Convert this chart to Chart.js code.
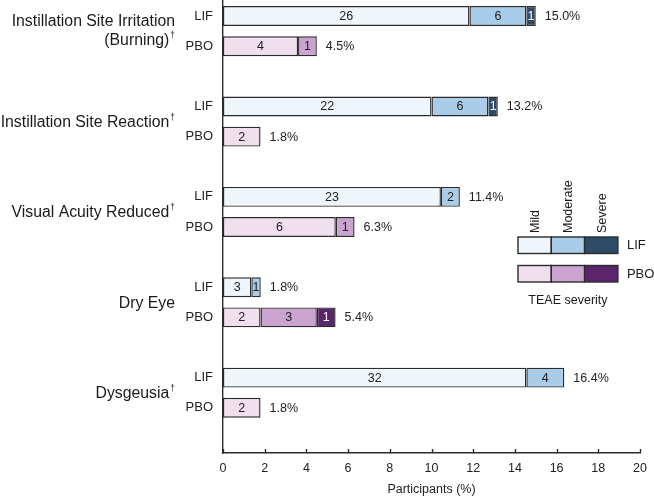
<!DOCTYPE html>
<html>
<head>
<meta charset="utf-8">
<script src="https://cdn.jsdelivr.net/npm/chart.js@4"></script>
<style>
  html, body { margin: 0; padding: 0; background: #fff; }
  #wrap { width: 654px; height: 497px; position: relative; }
</style>
</head>
<body>
<div id="wrap"><canvas id="c" width="654" height="497"></canvas></div>
<script>
// ---- Data ----
const groupLines = [
  ['Instillation Site Irritation', '(Burning)†'],
  ['Instillation Site Reaction†'],
  ['Visual Acuity Reduced†'],
  ['Dry Eye'],
  ['Dysgeusia†']
];
const arms = ['LIF', 'PBO'];
// percentages of participants (x-values)
const lifMild     = [11.82, 10.00, 10.45, 1.36, 14.55];
const lifModerate = [2.73, 2.73, 0.91, 0.45, 1.82];
const lifSevere   = [0.45, 0.45, null, null, null];
const pboMild     = [3.60, 1.80, 5.41, 1.80, 1.80];
const pboModerate = [0.90, null, 0.90, 2.70, null];
const pboSevere   = [null, null, null, 0.90, null];
// participant counts shown inside the segments
const lifMildN     = [26, 22, 23, 3, 32];
const lifModerateN = [6, 6, 2, 1, 4];
const lifSevereN   = [1, 1, null, null, null];
const pboMildN     = [4, 2, 6, 2, 2];
const pboModerateN = [1, null, 1, 3, null];
const pboSevereN   = [null, null, null, 1, null];
// totals shown to the right of the bars
const lifTotal = ['15.0%', '13.2%', '11.4%', '1.8%', '16.4%'];
const pboTotal = ['4.5%', '1.8%', '6.3%', '5.4%', '1.8%'];
const xTicks = [0, 2, 4, 6, 8, 10, 12, 14, 16, 18, 20];
const severities = ['Mild', 'Moderate', 'Severe'];

// ---- Styles ----
const lifColors = ['#eef6fc', '#a9cce9', '#2d4a66'];
const pboColors = ['#f0dfec', '#cba3cf', '#5b246b'];
const edge = '#2b2b2b';
const FONT = '"Liberation Sans", Arial, sans-serif';

// ---- Build the 15-row category layout (LIF, PBO, spacer per group) ----
const rowLabels = [];
const rowGroup = [];
const rowArm = [];
groupLines.forEach((g, i) => {
  rowLabels.push(arms[0], arms[1], '');
  rowGroup.push(i, i, -1);
  rowArm.push(0, 1, -1);
});
const lifSeries = [lifMild, lifModerate, lifSevere];
const pboSeries = [pboMild, pboModerate, pboSevere];
const lifCounts = [lifMildN, lifModerateN, lifSevereN];
const pboCounts = [pboMildN, pboModerateN, pboSevereN];

const datasets = severities.map((s, k) => {
  const data = [], bg = [], counts = [];
  rowLabels.forEach((lab, r) => {
    const g = rowGroup[r];
    if (g < 0) { data.push(null); bg.push('#fff'); counts.push(null); return; }
    if (rowArm[r] === 0) { data.push(lifSeries[k][g]); bg.push(lifColors[k]); counts.push(lifCounts[k][g]); }
    else { data.push(pboSeries[k][g]); bg.push(pboColors[k]); counts.push(pboCounts[k][g]); }
  });
  return {
    label: s, data, backgroundColor: bg, borderColor: edge, borderWidth: 1.4,
    borderSkipped: false, counts,
    categoryPercentage: 1.0, barPercentage: 0.66
  };
});
const rowTotals = rowLabels.map((lab, r) => {
  const g = rowGroup[r];
  if (g < 0) return null;
  return rowArm[r] === 0 ? lifTotal[g] : pboTotal[g];
});

// ---- Plugin: labels, group names, ticks, legend ----
const deco = {
  id: 'deco',
  afterDatasetsDraw(chart) {
    const ctx = chart.ctx;
    const xs = chart.scales.x, ys = chart.scales.y;
    ctx.save();
    // counts inside segments
    ctx.font = '12.5px ' + FONT;
    ctx.textAlign = 'center';
    ctx.textBaseline = 'middle';
    chart.data.datasets.forEach((ds, di) => {
      const meta = chart.getDatasetMeta(di);
      meta.data.forEach((el, i) => {
        const c = ds.counts[i];
        if (c === null || ds.data[i] === null) return;
        ctx.fillStyle = di === 2 ? '#ffffff' : '#222222';
        ctx.fillText(String(c), (el.x + el.base) / 2, el.y + 0.5);
      });
    });
    // totals
    ctx.textAlign = 'left';
    ctx.fillStyle = '#222';
    rowTotals.forEach((t, i) => {
      if (!t) return;
      let end = null;
      chart.data.datasets.forEach((ds, di) => {
        if (ds.data[i] !== null) end = chart.getDatasetMeta(di).data[i].x;
      });
      ctx.fillText(t, end + 9, ys.getPixelForValue(i) + 0.5);
    });
    // x ticks pointing up
    ctx.strokeStyle = edge;
    ctx.lineWidth = 1.4;
    xTicks.forEach(v => {
      const px = Math.round(xs.getPixelForValue(v)) + 0.5;
      ctx.beginPath();
      ctx.moveTo(px, chart.chartArea.bottom);
      ctx.lineTo(px, chart.chartArea.bottom - 4);
      ctx.stroke();
    });
    // group names
    ctx.fillStyle = '#1a1a1a';
    ctx.textAlign = 'right';
    ctx.textBaseline = 'middle';
    groupLines.forEach((lines, g) => {
      const yc = (ys.getPixelForValue(g * 3) + ys.getPixelForValue(g * 3 + 1)) / 2;
      const lh = 19;
      lines.forEach((ln, j) => {
        const y = yc + (j - (lines.length - 1) / 2) * lh + (lines.length > 1 ? 0 : 1);
        const right = 175;
        let main = ln, dag = '';
        if (ln.endsWith('†')) { main = ln.slice(0, -1); dag = '†'; }
        let x = right;
        if (dag) {
          ctx.font = '8.5px ' + FONT;
          const dw = ctx.measureText(dag).width;
          ctx.fillText(dag, x, y - 5);
          x -= dw + 1;
        }
        ctx.font = '15.8px ' + FONT;
        ctx.fillText(main, x, y);
      });
    });
    // legend
    const lx = 518, cw = 33.3, bh = 16.5;
    const rows = [{y: 237, cols: lifColors, lab: arms[0]}, {y: 265.5, cols: pboColors, lab: arms[1]}];
    rows.forEach(r => {
      r.cols.forEach((c, k) => {
        ctx.fillStyle = c;
        ctx.fillRect(lx + k * cw, r.y, cw, bh);
        ctx.strokeStyle = edge;
        ctx.lineWidth = 1.4;
        ctx.strokeRect(lx + k * cw, r.y, cw, bh);
      });
      ctx.fillStyle = '#1a1a1a';
      ctx.font = '13px ' + FONT;
      ctx.textAlign = 'left';
      ctx.fillText(r.lab, lx + 3 * cw + 9, r.y + bh / 2 + 0.5);
    });
    severities.forEach((s, k) => {
      ctx.save();
      ctx.translate(lx + k * cw + cw / 2 + 1, 233);
      ctx.rotate(-Math.PI / 2);
      ctx.textAlign = 'left';
      ctx.textBaseline = 'middle';
      ctx.font = '12.5px ' + FONT;
      ctx.fillStyle = '#1a1a1a';
      ctx.fillText(s, 0, 0);
      ctx.restore();
    });
    ctx.textAlign = 'center';
    ctx.font = '12.5px ' + FONT;
    ctx.fillText('TEAE severity', lx + 1.5 * cw, 301);
    ctx.restore();
  }
};

new Chart(document.getElementById('c'), {
  type: 'bar',
  data: { labels: rowLabels, datasets },
  options: {
    indexAxis: 'y',
    responsive: false,
    animation: false,
    layout: { padding: { top: 1, right: 14, left: 0, bottom: 0 } },
    plugins: { legend: { display: false }, tooltip: { enabled: false } },
    scales: {
      x: {
        stacked: true, min: 0, max: 20,
        afterBuildTicks(scale) { scale.ticks = xTicks.map(v => ({ value: v })); },
        afterFit(scale) { scale.height = 44; scale.paddingLeft = 0; scale.paddingRight = 0; },
        grid: { display: false, drawTicks: false },
        border: { display: true, color: edge, width: 1.4 },
        ticks: { color: '#222', font: { size: 12.5, family: FONT }, padding: 8, maxRotation: 0 },
        title: { display: true, text: 'Participants (%)', color: '#222', font: { size: 12.5, family: FONT }, padding: { top: 2, bottom: 0 } }
      },
      y: {
        stacked: true,
        afterFit(scale) { scale.width = 223; scale.paddingTop = 0; scale.paddingBottom = 0; },
        grid: { display: false, drawTicks: false },
        border: { display: true, color: edge, width: 1.4 },
        ticks: { color: '#222', font: { size: 13, family: FONT }, padding: 10, autoSkip: false }
      }
    }
  },
  plugins: [deco]
});
</script>
</body>
</html>
